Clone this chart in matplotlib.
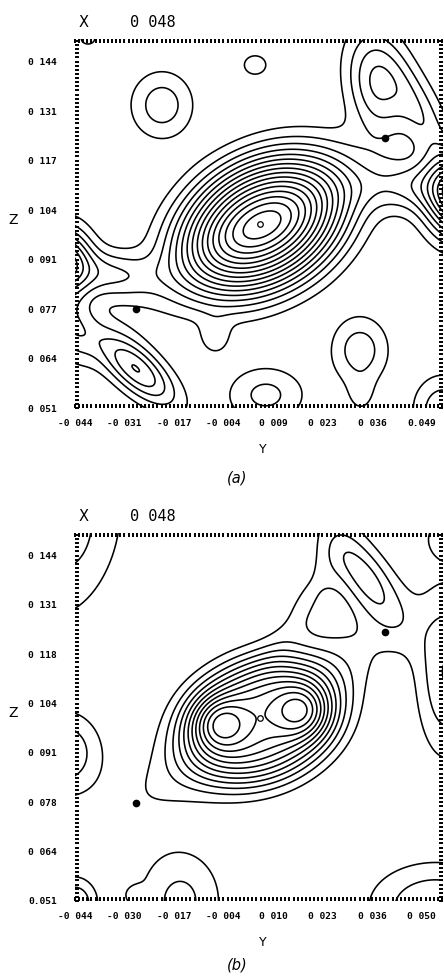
import numpy as np
import matplotlib.pyplot as plt

# axis labels as printed on the original maps
y_labels_a = ["-0 044", "-0 031", "-0 017", "-0 004", "0 009", "0 023", "0 036", "0.049"]
z_labels_a = ["0 051", "0 064", "0 077", "0 091", "0 104", "0 117", "0 131", "0 144"]
y_labels_b = ["-0 044", "-0 030", "-0 017", "-0 004", "0 010", "0 023", "0 036", "0 050"]
z_labels_b = ["0.051", "0 064", "0 078", "0 091", "0 104", "0 118", "0 131", "0 144"]
section_x = "0 048"

# density peaks:
# Y centre, Z centre, height, sigma major, sigma minor, angle (deg), shape exponent
peaks_a_y = [0.0064, 0.0064, 0.0060, -0.0470, -0.0345, 0.0595, 0.0470, 0.0370, 0.0490,
             -0.0275, -0.0450, 0.0045, -0.0206, 0.0074, 0.0327, 0.0330, 0.0550, -0.0405, -0.0063]
peaks_a_z = [0.1003, 0.1003, 0.1003, 0.0905, 0.0870, 0.1075, 0.1110, 0.1385, 0.1300,
             0.0615, 0.0730, 0.1434, 0.1326, 0.0545, 0.0666, 0.0540, 0.0505, 0.1505, 0.0700]
peaks_a_h = [12.0, 3.5, 1.2, 7.0, 3.0, 9.0, 3.0, 4.0, 2.5,
             5.0, 2.5, 1.4, 2.6, 2.3, 2.6, 1.0, 2.8, 1.3, 1.5]
peaks_a_sa = [0.0195, 0.0095, 0.0280, 0.0065, 0.0085, 0.0075, 0.0100, 0.0100, 0.0120,
              0.0095, 0.0070, 0.0035, 0.0065, 0.0075, 0.0065, 0.0040, 0.0065, 0.0025, 0.0035]
peaks_a_sb = [0.0138, 0.0055, 0.0070, 0.0050, 0.0045, 0.0060, 0.0050, 0.0055, 0.0040,
              0.0040, 0.0045, 0.0030, 0.0060, 0.0055, 0.0055, 0.0030, 0.0055, 0.0020, 0.0030]
peaks_a_ang = [30, 25, 34, 90, -5, 90, 0, 100, -65,
               -42, -70, 0, 90, 0, 90, 90, 90, 0, 90]
peaks_a_p = [3, 2, 2, 2, 2, 2, 2, 2, 2,
             2, 2, 2, 2, 2, 2, 2, 2, 2, 2]

peaks_b_y = [-0.0058, 0.0177, 0.0058, 0.0058, 0.0340, 0.0180, 0.0560, 0.0560, 0.0530,
             -0.0470, -0.0450, -0.0440, -0.0278, -0.0157]
peaks_b_z = [0.0993, 0.1020, 0.0995, 0.1006, 0.1385, 0.1320, 0.1120, 0.1490, 0.0495,
             0.0910, 0.1500, 0.0505, 0.0526, 0.0510]
peaks_b_h = [3.5, 3.5, 8.5, 2.0, 3.5, 1.1, 3.0, 1.8, 3.0,
             3.0, 2.3, 3.0, 1.2, 2.3]
peaks_b_sa = [0.0050, 0.0050, 0.0180, 0.0300, 0.0110, 0.0130, 0.0150, 0.0040, 0.0120,
              0.0075, 0.0170, 0.0045, 0.0020, 0.0100]
peaks_b_sb = [0.0050, 0.0050, 0.0135, 0.0070, 0.0045, 0.0040, 0.0055, 0.0040, 0.0080,
              0.0068, 0.0095, 0.0040, 0.0018, 0.0080]
peaks_b_ang = [0, 0, 22, 34, -55, 60, 90, 0, 0,
               90, 75, 90, 0, 90]
peaks_b_p = [2, 2, 3.5, 2, 2, 2, 2, 2, 2,
             2, 2, 2, 2, 2]

# atom positions (dots) and centre of symmetry (o)
atoms_y = [-0.0275, 0.0396]
atoms_z = [0.0776, 0.1237]
centre_y = 0.0058
centre_z = 0.1005

y_min, y_max = -0.044, 0.0551
z_min, z_max = 0.051, 0.1504
tick_step = 0.01333


def densite(Y, Z, py, pz, ph, psa, psb, pang, pp):
    rho = np.zeros_like(Y)
    for i in range(len(py)):
        t = np.radians(pang[i])
        dy = Y - py[i]
        dz = Z - pz[i]
        u = dy*np.cos(t) + dz*np.sin(t)
        v = -dy*np.sin(t) + dz*np.cos(t)
        q = np.sqrt((u/psa[i])**2 + (v/psb[i])**2)
        rho += ph[i]*np.exp(-0.5*q**pp[i])
    return rho


def carte(ax, peaks, y_labels, z_labels, lettre, y_lettre):
    gy = np.linspace(-0.052, 0.064, 420)
    gz = np.linspace(0.043, 0.158, 420)
    Y, Z = np.meshgrid(gy, gz)
    rho = densite(Y, Z, *peaks)
    ax.contour(Y, Z, rho, levels=np.arange(1, 21), colors="black", linewidths=1.15)
    ax.plot(atoms_y, atoms_z, "o", color="black", markersize=4.5)
    ax.plot([centre_y], [centre_z], "o", mfc="none", mec="black", markersize=4, mew=0.9)
    ax.set_xlim(y_min, y_max)
    ax.set_ylim(z_min, z_max)
    pos_y = [y_min + i*tick_step for i in range(8)]
    pos_z = [z_min + i*tick_step for i in range(8)]
    ax.set_xticks(pos_y)
    ax.set_xticklabels(y_labels)
    ax.set_yticks(pos_z)
    ax.set_yticklabels(z_labels)
    ax.set_xticks(np.arange(y_min, y_max, tick_step/12), minor=True)
    ax.set_yticks(np.arange(z_min, z_max, tick_step/12), minor=True)
    for s in ax.spines.values():
        s.set_visible(False)
    ax.tick_params(which="both", direction="in", top=True, right=True, length=3, width=1.4, color="black")
    ax.tick_params(axis="x", which="major", labelsize=6.8, pad=8)
    ax.tick_params(axis="y", which="major", labelsize=6.8, pad=13)
    for lab in ax.get_xticklabels() + ax.get_yticklabels():
        lab.set_fontweight("bold")
        lab.set_family("DejaVu Sans Mono")
    ax.text(0.01, 1.045, "X", transform=ax.transAxes, fontsize=10.5, va="center")
    ax.text(0.15, 1.045, section_x, transform=ax.transAxes, fontsize=11, va="center", family="DejaVu Sans Mono")
    ax.text(-0.18, 0.51, "Z", transform=ax.transAxes, fontsize=10, va="center")
    ax.text(0.51, -0.113, "Y", transform=ax.transAxes, fontsize=9, ha="center", va="center")
    ax.text(0.44, y_lettre, lettre, transform=ax.transAxes, fontsize=10.5, ha="center", va="center", style="italic")


fig = plt.figure(figsize=(4.44, 9.76), dpi=100)
ax_a = fig.add_axes([75/444, 1 - 408/976, 368/444, 369/976])
ax_b = fig.add_axes([75/444, 1 - 901/976, 368/444, 368/976])

carte(ax_a, (peaks_a_y, peaks_a_z, peaks_a_h, peaks_a_sa, peaks_a_sb, peaks_a_ang, peaks_a_p),
      y_labels_a, z_labels_a, "(a)", -0.19)
carte(ax_b, (peaks_b_y, peaks_b_z, peaks_b_h, peaks_b_sa, peaks_b_sb, peaks_b_ang, peaks_b_p),
      y_labels_b, z_labels_b, "(b)", -0.175)

fig.savefig("out.png", dpi=100)
